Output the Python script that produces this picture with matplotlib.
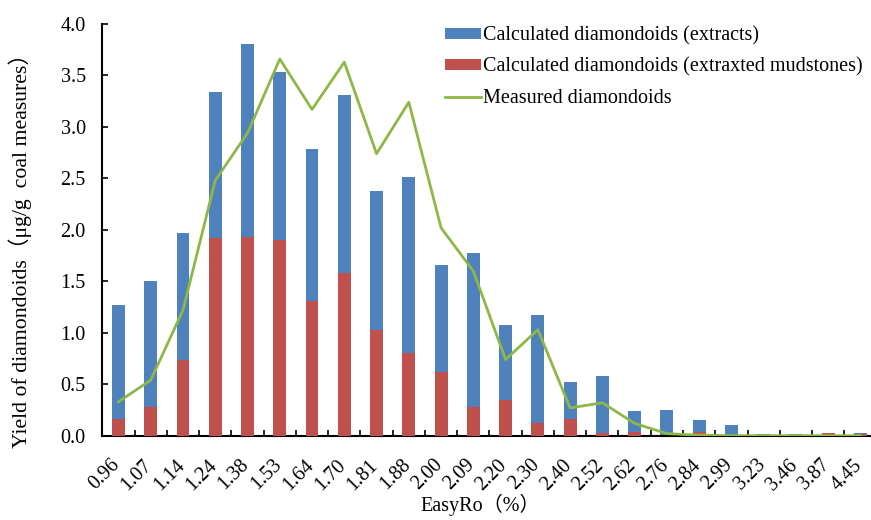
import matplotlib
matplotlib.use("Agg")
import matplotlib.pyplot as plt
import matplotlib.transforms as mtransforms
import numpy as np

easyro = ["0.96", "1.07", "1.14", "1.24", "1.38", "1.53", "1.64", "1.70",
          "1.81", "1.88", "2.00", "2.09", "2.20", "2.30", "2.40", "2.52",
          "2.62", "2.76", "2.84", "2.99", "3.23", "3.46", "3.87", "4.45"]

calc_extracts = [1.27, 1.50, 1.97, 3.34, 3.81, 3.53, 2.79, 3.31,
                 2.38, 2.51, 1.66, 1.78, 1.08, 1.17, 0.52, 0.58,
                 0.24, 0.25, 0.15, 0.10, 0.02, 0.02, 0.03, 0.025]

calc_mudstones = [0.16, 0.28, 0.74, 1.92, 1.93, 1.90, 1.31, 1.58,
                  1.03, 0.80, 0.62, 0.28, 0.35, 0.12, 0.16, 0.03,
                  0.04, 0.0, 0.04, 0.0, 0.0, 0.0, 0.025, 0.02]

measured = [0.33, 0.54, 1.22, 2.48, 2.94, 3.66, 3.17, 3.63,
            2.74, 3.24, 2.02, 1.60, 0.74, 1.03, 0.27, 0.32,
            0.12, 0.02, 0.005, 0.0, 0.0, 0.0, 0.0, 0.0]

serif = ["Liberation Serif", "Noto Sans CJK SC"]
plt.rcParams["font.family"] = serif
plt.rcParams["font.size"] = 14.5

fig = plt.figure(figsize=(8.71, 5.20), dpi=100)
ax = fig.add_axes([0.1175, 0.1621, 0.8889, 0.7917])

x = np.arange(len(easyro))
w = 0.40
b1 = ax.bar(x, calc_extracts, width=w, color="#4F81BD", zorder=2,
            label="Calculated diamondoids (extracts)")
b2 = ax.bar(x, calc_mudstones, width=w, color="#C0504D", zorder=3,
            label="Calculated diamondoids (extraxted mudstones)")
l1, = ax.plot(x, measured, color="#8DB848", lw=2.0, zorder=4,
              label="Measured diamondoids")

ax.set_xlim(-0.5, len(easyro) - 0.5)
ax.set_ylim(0, 4.0)
yt = np.arange(0, 4.01, 0.5)
ax.set_yticks(yt)
ax.set_yticklabels([f"{v:.1f}" for v in yt])

ax.set_xticks(x)
ax.set_xticklabels(easyro, rotation=45, ha="right", rotation_mode="anchor")
ax.set_xticks(np.arange(0.5, len(easyro) - 0.5, 1.0), minor=True)
ax.tick_params(axis="x", which="major", length=0, pad=10)
ax.tick_params(axis="x", which="minor", direction="in", length=4, width=1.2)
ax.tick_params(axis="y", direction="in", length=4, width=1.2, pad=12)

# nudge the rotated category labels a little left and down
shift = mtransforms.ScaledTranslation(-0.08, -0.06, fig.dpi_scale_trans)
for lab in ax.get_xticklabels():
    lab.set_transform(lab.get_transform() + shift)

for s in ("top", "right"):
    ax.spines[s].set_visible(False)
for s in ("left", "bottom"):
    ax.spines[s].set_linewidth(1.5)

ax.set_ylabel("Yield of diamondoids（μg/g  coal measures）", fontsize=15.7)
ax.yaxis.set_label_coords(-0.091, 0.463)
ax.set_xlabel("EasyRo（%）")
ax.xaxis.set_label_coords(0.488, -0.142)

fig.legend(handles=[b1, b2, l1], loc="upper left",
           bbox_to_anchor=(0.502, 0.965),
           frameon=False, handlelength=1.75, handleheight=0.45,
           handletextpad=0.1, labelspacing=0.6, borderaxespad=0,
           fontsize=14.5)

fig.savefig("out.png", dpi=100)
